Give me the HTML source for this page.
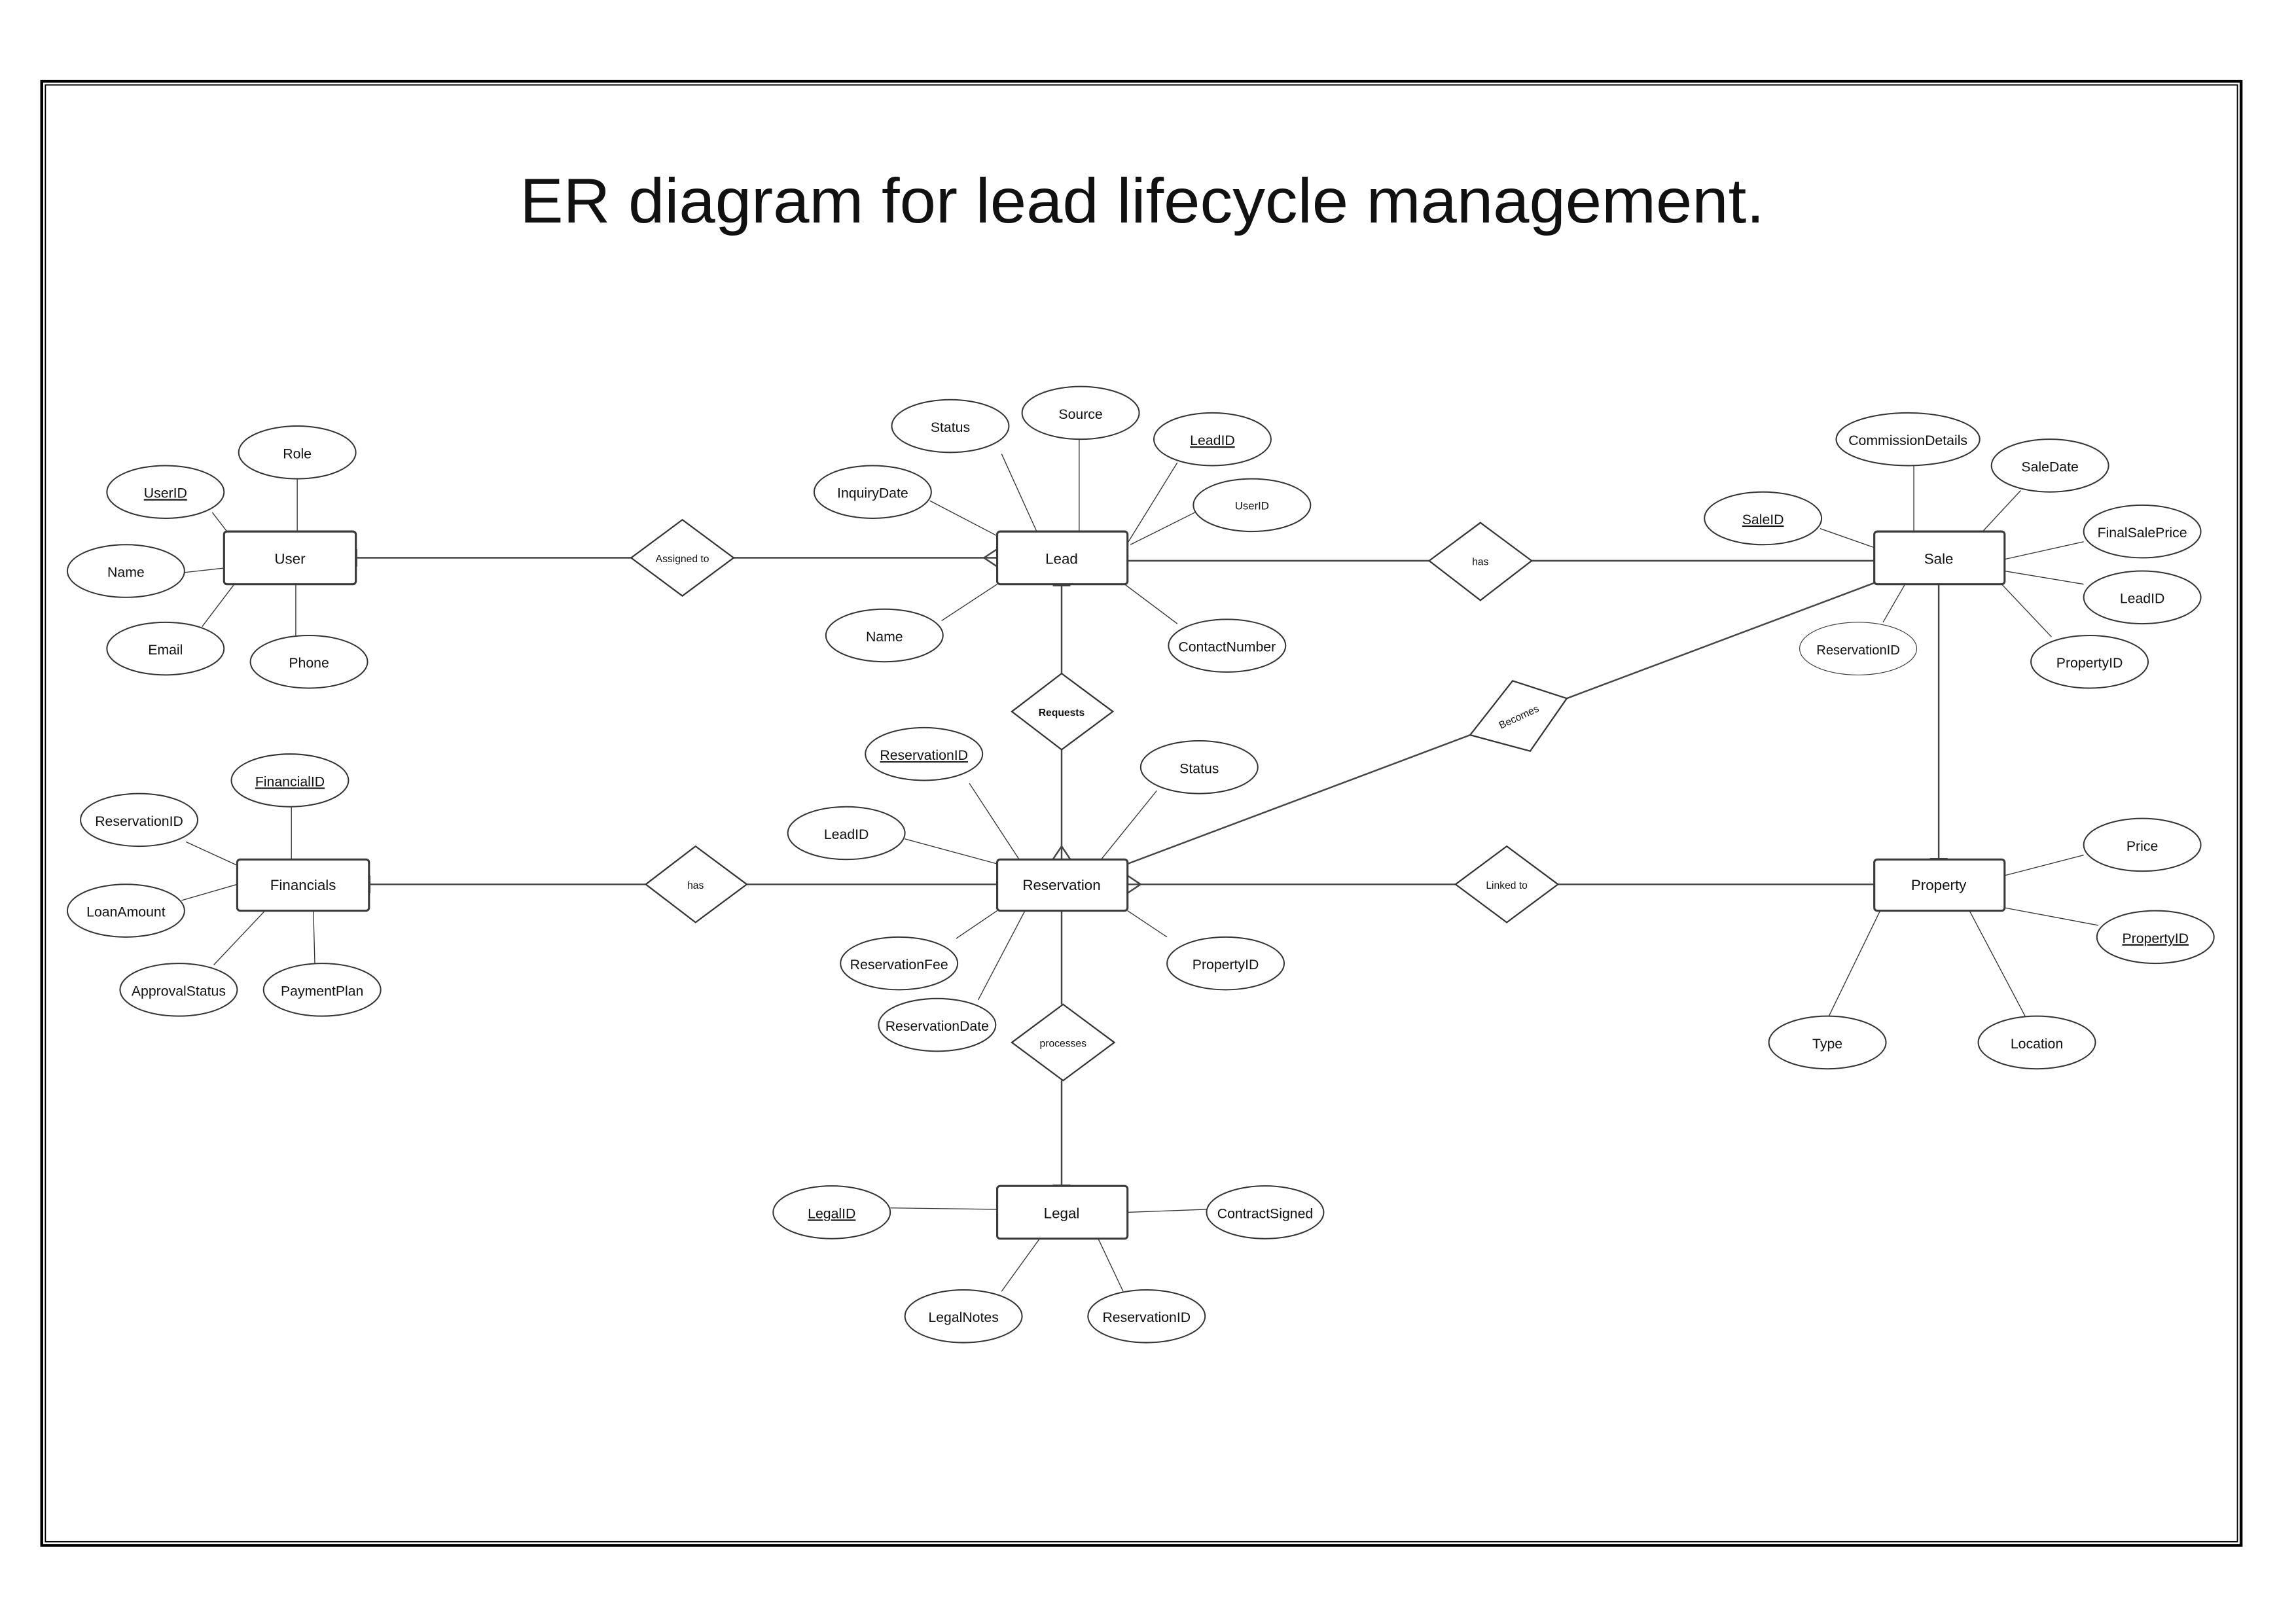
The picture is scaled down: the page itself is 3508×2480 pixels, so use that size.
<!DOCTYPE html>
<html><head><meta charset="utf-8"><style>
html,body{margin:0;padding:0;background:#fff;}
svg{display:block;}
text{font-family:"Liberation Sans",sans-serif;fill:#111;}
</style></head><body>
<svg width="3508" height="2480" viewBox="0 0 1568 1108.5" xmlns="http://www.w3.org/2000/svg">
<rect x="0" y="0" width="1568" height="1108.5" fill="#fff"/>
<rect x="28.5" y="55.5" width="1502" height="1000" fill="none" stroke="#000" stroke-width="2"/>
<rect x="31" y="58" width="1497" height="995" fill="none" stroke="#000" stroke-width="0.8"/>
<text x="355" y="152" font-size="43" textLength="850" lengthAdjust="spacingAndGlyphs">ER diagram for lead lifecycle management.</text>

<g stroke="#333" stroke-width="0.6" fill="none">
<!-- User attrs -->
<line x1="145" y1="350" x2="155" y2="363"/><line x1="203" y1="327" x2="203" y2="363"/>
<line x1="126" y1="391" x2="153" y2="388"/><line x1="138" y1="428" x2="160" y2="399"/>
<line x1="202" y1="434" x2="202" y2="399"/>
<!-- Lead attrs -->
<line x1="684" y1="310" x2="708" y2="363"/><line x1="737" y1="300" x2="737" y2="363"/>
<line x1="804" y1="316" x2="770" y2="371"/><line x1="816" y1="350" x2="772" y2="372"/>
<line x1="635" y1="342" x2="681" y2="366"/><line x1="643" y1="424" x2="681" y2="399"/>
<line x1="804" y1="426" x2="768" y2="399"/>
<!-- Sale attrs -->
<line x1="1307" y1="318" x2="1307" y2="363"/><line x1="1380" y1="335" x2="1354" y2="363"/>
<line x1="1243" y1="361" x2="1280" y2="374"/><line x1="1423" y1="370" x2="1369" y2="382"/>
<line x1="1423" y1="399" x2="1369" y2="390"/><line x1="1401" y1="435" x2="1367" y2="399"/>
<line x1="1286" y1="425" x2="1301" y2="399"/>
<!-- Reservation attrs -->
<line x1="662" y1="535" x2="696" y2="587"/><line x1="790" y1="540" x2="752" y2="587"/>
<line x1="618" y1="573" x2="681" y2="590"/><line x1="653" y1="641" x2="681" y2="622"/>
<line x1="668" y1="683" x2="700" y2="622"/><line x1="797" y1="640" x2="770" y2="622"/>
<!-- Financials attrs -->
<line x1="199" y1="551" x2="199" y2="587"/><line x1="127" y1="575" x2="162" y2="591"/>
<line x1="124" y1="615" x2="162" y2="604"/><line x1="146" y1="659" x2="181" y2="622"/>
<line x1="215" y1="658" x2="214" y2="622"/>
<!-- Property attrs -->
<line x1="1423" y1="584" x2="1369" y2="598"/><line x1="1433" y1="632" x2="1369" y2="620"/>
<line x1="1249" y1="694" x2="1284" y2="622"/><line x1="1383" y1="694" x2="1345" y2="622"/>
<!-- Legal attrs -->
<line x1="608" y1="825" x2="681" y2="826"/><line x1="824" y1="826" x2="770" y2="828"/>
<line x1="684" y1="882" x2="710" y2="846"/><line x1="767" y1="882" x2="750" y2="846"/>
</g>

<g stroke="#444" stroke-width="1.1" fill="none">
<line x1="243" y1="381" x2="431" y2="381"/><line x1="501" y1="381" x2="681" y2="381"/>
<line x1="770" y1="383" x2="976" y2="383"/><line x1="1046" y1="383" x2="1280" y2="383"/>
<line x1="725" y1="399" x2="725" y2="460"/><line x1="725" y1="512" x2="725" y2="587"/>
<line x1="252" y1="604" x2="441" y2="604"/><line x1="510" y1="604" x2="681" y2="604"/>
<line x1="770" y1="604" x2="994" y2="604"/><line x1="1064" y1="604" x2="1280" y2="604"/>
<line x1="725" y1="622" x2="725" y2="686"/><line x1="725" y1="738" x2="725" y2="810"/>
<line x1="1324" y1="399" x2="1324" y2="587"/>
<line x1="770" y1="590" x2="1004" y2="502"/><line x1="1070" y1="477" x2="1283" y2="397"/>
<!-- crow feet -->
<polyline points="681,375 672,381 681,387"/><polyline points="719,587 725,578 731,587"/>
<polyline points="770,598 779,604 770,610"/>
<line x1="243" y1="375" x2="243" y2="387" stroke-width="2"/>
<line x1="252" y1="598" x2="252" y2="610" stroke-width="2"/>
<line x1="1318" y1="587" x2="1330" y2="587" stroke-width="2"/>
<line x1="719" y1="399.5" x2="731" y2="399.5" stroke-width="2"/>
<line x1="719" y1="810" x2="731" y2="810" stroke-width="2"/>
</g>

<g stroke="#333" stroke-width="1" fill="#fff">
<polygon points="431,381 466,355 501,381 466,407"/>
<polygon points="976,383 1011,357 1046,383 1011,410"/>
<polygon points="691,486 725,460 760,486 725,512"/>
<polygon points="441,604 475,578 510,604 475,630"/>
<polygon points="994,604 1029,578 1064,604 1029,630"/>
<polygon points="691,712 726,686 761,712 726,738"/>
<polygon points="1004,502 1033,465 1070,477 1045,513"/>
</g>
<g stroke="#3a3a3a" stroke-width="1.4" fill="#fff">
<rect x="153" y="363" width="90" height="36" rx="2"/>
<rect x="681" y="363" width="89" height="36" rx="2"/>
<rect x="1280" y="363" width="89" height="36" rx="2"/>
<rect x="162" y="587" width="90" height="35" rx="2"/>
<rect x="681" y="587" width="89" height="35" rx="2"/>
<rect x="1280" y="587" width="89" height="35" rx="2"/>
<rect x="681" y="810" width="89" height="36" rx="2"/>
</g>
<g stroke="#333" stroke-width="0.9" fill="#fff">
<ellipse cx="113" cy="336" rx="40" ry="18"/><ellipse cx="203" cy="309" rx="40" ry="18"/>
<ellipse cx="86" cy="390" rx="40" ry="18"/><ellipse cx="113" cy="443" rx="40" ry="18"/>
<ellipse cx="211" cy="452" rx="40" ry="18"/>
<ellipse cx="649" cy="291" rx="40" ry="18"/><ellipse cx="738" cy="282" rx="40" ry="18"/>
<ellipse cx="828" cy="300" rx="40" ry="18"/><ellipse cx="855" cy="345" rx="40" ry="18"/>
<ellipse cx="596" cy="336" rx="40" ry="18"/><ellipse cx="604" cy="434" rx="40" ry="18"/>
<ellipse cx="838" cy="441" rx="40" ry="18"/>
<ellipse cx="1303" cy="300" rx="49" ry="18"/><ellipse cx="1400" cy="318" rx="40" ry="18"/>
<ellipse cx="1204" cy="354" rx="40" ry="18"/><ellipse cx="1463" cy="363" rx="40" ry="18"/>
<ellipse cx="1463" cy="408" rx="40" ry="18"/><ellipse cx="1427" cy="452" rx="40" ry="18"/>
<ellipse cx="1269" cy="443" rx="40" ry="18" stroke-width="0.5"/>
<ellipse cx="631" cy="515" rx="40" ry="18"/><ellipse cx="819" cy="524" rx="40" ry="18"/>
<ellipse cx="578" cy="569" rx="40" ry="18"/><ellipse cx="614" cy="658" rx="40" ry="18"/>
<ellipse cx="640" cy="700" rx="40" ry="18"/><ellipse cx="837" cy="658" rx="40" ry="18"/>
<ellipse cx="198" cy="533" rx="40" ry="18"/><ellipse cx="95" cy="560" rx="40" ry="18"/>
<ellipse cx="86" cy="622" rx="40" ry="18"/><ellipse cx="122" cy="676" rx="40" ry="18"/>
<ellipse cx="220" cy="676" rx="40" ry="18"/>
<ellipse cx="1463" cy="577" rx="40" ry="18"/><ellipse cx="1472" cy="640" rx="40" ry="18"/>
<ellipse cx="1248" cy="712" rx="40" ry="18"/><ellipse cx="1391" cy="712" rx="40" ry="18"/>
<ellipse cx="568" cy="828" rx="40" ry="18"/><ellipse cx="864" cy="828" rx="40" ry="18"/>
<ellipse cx="658" cy="899" rx="40" ry="18"/><ellipse cx="783" cy="899" rx="40" ry="18"/>
</g>

<g font-size="10" text-anchor="middle">
<text x="198" y="385">User</text><text x="725" y="385">Lead</text><text x="1324" y="385">Sale</text>
<text x="207" y="608">Financials</text><text x="725" y="608">Reservation</text>
<text x="1324" y="608">Property</text><text x="725" y="832">Legal</text>
</g>
<g font-size="7" text-anchor="middle">
<text x="466" y="384">Assigned to</text><text x="1011" y="386">has</text>
<text x="725" y="489" font-weight="bold">Requests</text><text x="475" y="607">has</text>
<text x="1029" y="607">Linked to</text><text x="726" y="715">processes</text>
<text x="1037" y="492" transform="rotate(-25 1037 489)">Becomes</text>
</g>
<g font-size="9.5" text-anchor="middle">
<text x="113" y="340" text-decoration="underline">UserID</text><text x="203" y="313">Role</text>
<text x="86" y="394">Name</text><text x="113" y="447">Email</text><text x="211" y="456">Phone</text>
<text x="649" y="295">Status</text><text x="738" y="286">Source</text>
<text x="828" y="304" text-decoration="underline">LeadID</text>
<text x="855" y="348" font-size="7.5">UserID</text>
<text x="596" y="340">InquiryDate</text><text x="604" y="438">Name</text>
<text x="838" y="445">ContactNumber</text>
<text x="1303" y="304">CommissionDetails</text><text x="1400" y="322">SaleDate</text>
<text x="1204" y="358" text-decoration="underline">SaleID</text>
<text x="1463" y="367">FinalSalePrice</text><text x="1463" y="412">LeadID</text>
<text x="1427" y="456">PropertyID</text><text x="1269" y="447" font-size="9">ReservationID</text>
<text x="631" y="519" text-decoration="underline">ReservationID</text><text x="819" y="528">Status</text>
<text x="578" y="573">LeadID</text><text x="614" y="662">ReservationFee</text>
<text x="640" y="704">ReservationDate</text><text x="837" y="662">PropertyID</text>
<text x="198" y="537" text-decoration="underline">FinancialID</text>
<text x="95" y="564">ReservationID</text><text x="86" y="626">LoanAmount</text>
<text x="122" y="680">ApprovalStatus</text><text x="220" y="680">PaymentPlan</text>
<text x="1463" y="581">Price</text>
<text x="1472" y="644" text-decoration="underline">PropertyID</text>
<text x="1248" y="716">Type</text><text x="1391" y="716">Location</text>
<text x="568" y="832" text-decoration="underline">LegalID</text>
<text x="864" y="832">ContractSigned</text>
<text x="658" y="903">LegalNotes</text><text x="783" y="903">ReservationID</text>
</g>
</svg>
</body></html>
